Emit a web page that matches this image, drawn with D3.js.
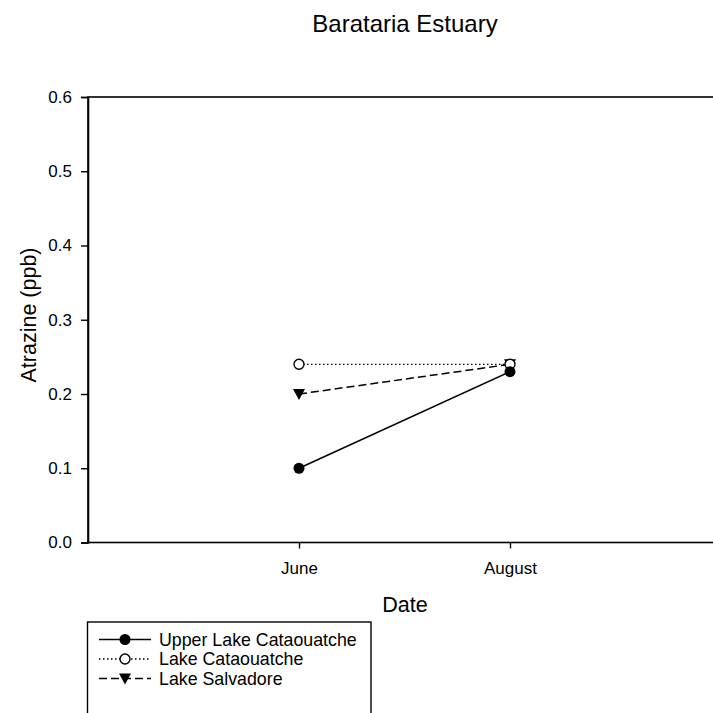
<!DOCTYPE html>
<html><head><meta charset="utf-8">
<script src="https://cdn.jsdelivr.net/npm/d3@7"></script>
<style>body{margin:0;background:#fff}svg{display:block}text{font-family:"Liberation Sans",Arial,sans-serif;fill:#000}</style>
</head><body><svg id="c" width="713" height="713"></svg>
<script>
const categories = ["June", "August"];
const categoryPos = [1, 2];
const seriesNames = ["Upper Lake Cataouatche", "Lake Cataouatche", "Lake Salvadore"];
const upperLakeCataouatche = [0.10, 0.23];
const lakeCataouatche = [0.24, 0.24];
const lakeSalvadore = [0.20, 0.24];
const yTicks = [0.0, 0.1, 0.2, 0.3, 0.4, 0.5, 0.6];

const svg = d3.select("#c");
const L = 88, R = 721, T = 97, B = 542.5;
const x = d3.scaleLinear().domain([0, 3]).range([L, R]);
const y = d3.scaleLinear().domain([0, 0.6]).range([B, T]);

const styles = [
  {vals: upperLakeCataouatche, dash: null, marker: "circleFill"},
  {vals: lakeCataouatche, dash: "1.5,2.5", marker: "circleOpen"},
  {vals: lakeSalvadore, dash: "8,4", marker: "triangle"}
];

svg.append("rect").attr("x", L).attr("y", T).attr("width", R - L).attr("height", B - T)
  .attr("fill", "none").attr("stroke", "#000").attr("stroke-width", 1.6);

const ya = svg.append("g").attr("transform", `translate(${L},0)`)
  .call(d3.axisLeft(y).tickValues(yTicks).tickFormat(d3.format(".1f")).tickSize(7).tickPadding(9));
ya.select(".domain").attr("stroke-width", 1.6);
ya.selectAll("line").attr("stroke-width", 1.4);
ya.selectAll("text").attr("font-size", 17).attr("font-family", "Liberation Sans, Arial, sans-serif");

const xa = svg.append("g").attr("transform", `translate(0,${B})`)
  .call(d3.axisBottom(x).tickValues(categoryPos).tickFormat((d, i) => categories[i]).tickSize(6).tickPadding(13));
xa.select(".domain").remove();
xa.selectAll("line").attr("stroke-width", 1.4);
xa.selectAll("text").attr("font-size", 17).attr("font-family", "Liberation Sans, Arial, sans-serif");

function drawMarker(g, type, cx, cy) {
  if (type === "circleFill") g.append("circle").attr("cx", cx).attr("cy", cy).attr("r", 5.5).attr("fill", "#000");
  else if (type === "circleOpen") g.append("circle").attr("cx", cx).attr("cy", cy).attr("r", 5).attr("fill", "#fff").attr("stroke", "#000").attr("stroke-width", 1.4);
  else g.append("path").attr("d", `M${cx-6},${cy-5}L${cx+6},${cy-5}L${cx},${cy+6}Z`).attr("fill", "#000");
}

const line = d3.line().x((d, i) => x(categoryPos[i])).y(d => y(d));
[2, 1, 0].forEach(k => {
  const s = styles[k];
  svg.append("path").attr("d", line(s.vals)).attr("fill", "none").attr("stroke", "#000")
    .attr("stroke-width", k === 1 ? 1.3 : 1.5).attr("stroke-dasharray", s.dash);
});
[2, 1, 0].forEach(k => {
  const s = styles[k];
  s.vals.forEach((v, i) => drawMarker(svg, s.marker, x(categoryPos[i]), y(v)));
});

svg.append("text").attr("x", 405).attr("y", 32).attr("text-anchor", "middle").attr("font-size", 24).text("Barataria Estuary");
svg.append("text").attr("x", 405).attr("y", 612).attr("text-anchor", "middle").attr("font-size", 21.5).text("Date");
svg.append("text").attr("transform", `translate(36,315) rotate(-90)`).attr("text-anchor", "middle").attr("font-size", 21.5).text("Atrazine (ppb)");

const lg = svg.append("g");
lg.append("rect").attr("x", 87.5).attr("y", 622).attr("width", 283.5).attr("height", 100)
  .attr("fill", "none").attr("stroke", "#000").attr("stroke-width", 1.4);
const rowY = [639.5, 659, 678.5];
styles.forEach((s, k) => {
  const yy = rowY[k];
  lg.append("line").attr("x1", 99).attr("x2", 151).attr("y1", yy).attr("y2", yy)
    .attr("stroke", "#000").attr("stroke-width", k === 1 ? 1.3 : 1.5).attr("stroke-dasharray", s.dash);
  drawMarker(lg, s.marker, 125, yy);
  lg.append("text").attr("x", 159).attr("y", yy + 6).attr("font-size", 17.8).text(seriesNames[k]);
});
</script></body></html>
